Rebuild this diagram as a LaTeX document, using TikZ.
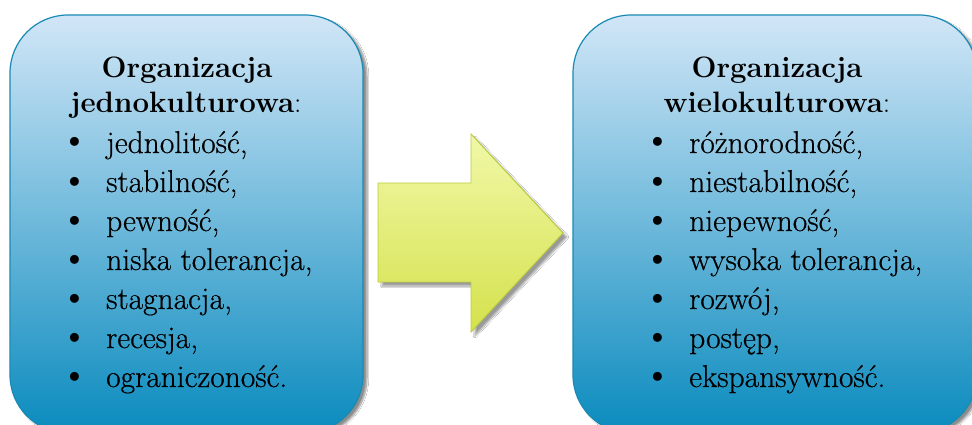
\documentclass[tikz,border=0pt]{standalone}
\usepackage{fontspec}
\newfontfamily\cardfont{Latin Modern Roman}[UprightFeatures={FakeBold=0.5}]
\usetikzlibrary{shadows.blur}

\definecolor{boxtop}{HTML}{D1E6F7}
\definecolor{boxmid}{HTML}{88C5EF}
\definecolor{boxbot}{HTML}{0A8BBE}
\definecolor{boxline}{HTML}{1A8AB5}
\definecolor{arrtop}{HTML}{F1F8A8}
\definecolor{arrmid}{HTML}{EDF57E}
\definecolor{arrbot}{HTML}{D4E24C}
\definecolor{arrline}{HTML}{BCCB3A}

\tikzset{
  cardbox/.style={draw=boxline, line width=1.2pt, rounded corners=58pt,
    top color=boxtop, middle color=boxmid, bottom color=boxbot,
    blur shadow={shadow xshift=4pt, shadow yshift=-3pt, shadow blur steps=8, shadow opacity=45},
    inner sep=0pt},
  heading/.style={font=\rmfamily\fontsize{29.5}{39}\selectfont, anchor=base, inner sep=0pt},
  item/.style={font=\cardfont\fontsize{31.5}{39}\selectfont, anchor=base west, inner sep=0pt},
  dot/.style={font=\rmfamily\fontsize{40}{40}\selectfont, anchor=base, inner sep=0pt},
}

\begin{document}
\begin{tikzpicture}[x=1pt,y=-1pt]
\useasboundingbox (0,0) rectangle (972,425);
\clip (0,0) rectangle (972,425);
\fill[white] (0,0) rectangle (972,425);

% the two organisation cards
\node[cardbox, minimum width=353pt, minimum height=418pt] (left) at (186.5,224) {};
\node[cardbox, minimum width=404pt, minimum height=418pt] (right) at (775,224) {};

% transition arrow
\path[draw=arrline, line width=0.9pt, top color=arrtop, middle color=arrmid, bottom color=arrbot,
  blur shadow={shadow xshift=4pt, shadow yshift=-4pt, shadow blur steps=8, shadow opacity=40}]
  (378,183) -- (471,183) -- (471,134) -- (563,233) -- (471,332) -- (471,282) -- (378,282) -- cycle;
\coordinate (arrowtip) at (563,233);

% left card text
\node[heading] (lt1) at (187,78) {\bfseries Organizacja};
\node[heading] (lt2) at (186,113) {\textbf{jednokulturowa}:};
\foreach \txt [count=\i] in {{jednolitość,}, {stabilność,}, {pewność,}, {niska tolerancja,}, {stagnacja,}, {recesja,}, {ograniczoność.}} {
  \pgfmathsetmacro{\yy}{153+(\i-1)*39}
  \node[dot] (lb\i) at (75,\yy) {•};
  \node[item] (li\i) at (106,\yy) {\txt};
}

% right card text
\node[heading] (rt1) at (777,78) {\bfseries Organizacja};
\node[heading] (rt2) at (777,113) {\textbf{wielokulturowa}:};
\foreach \txt [count=\i] in {{różnorodność,}, {niestabilność,}, {niepewność,}, {wysoka tolerancja,}, {rozwój,}, {postęp,}, {ekspansywność.}} {
  \pgfmathsetmacro{\yy}{153+(\i-1)*39}
  \node[dot] (rb\i) at (658,\yy) {•};
  \node[item] (ri\i) at (689,\yy) {\txt};
}
\end{tikzpicture}
\end{document}
